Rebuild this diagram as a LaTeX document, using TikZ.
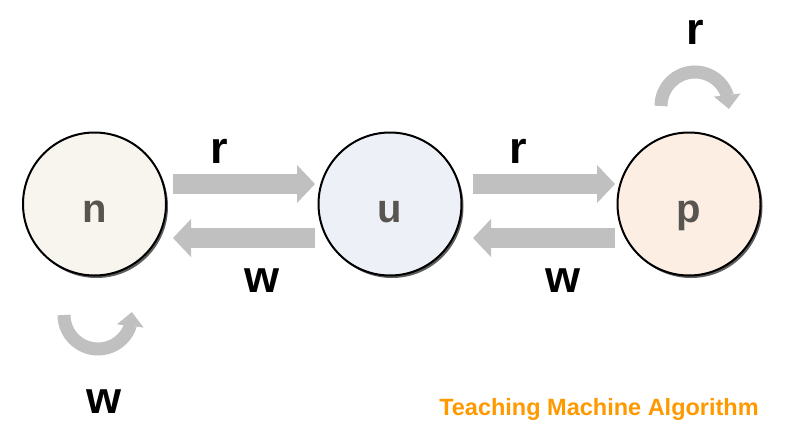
\documentclass[tikz,border=0pt]{standalone}
\usepackage{fontspec}
\setmainfont{Liberation Sans}
\usetikzlibrary{arrows.meta,bending,shadows}
\definecolor{nfill}{RGB}{248,244,238}
\definecolor{ufill}{RGB}{238,240,248}
\definecolor{pfill}{RGB}{253,238,228}
\definecolor{arrgray}{RGB}{192,192,192}
\definecolor{lettergray}{RGB}{88,84,80}
\definecolor{titleorange}{RGB}{255,153,0}
\tikzset{
  statenode/.style={circle, draw=black, line width=2pt, minimum size=143pt, inner sep=0pt,
    text height=40pt, text depth=4pt, text=lettergray,
    font=\fontsize{40}{40}\selectfont\bfseries,
    drop shadow={shadow xshift=2pt, shadow yshift=-2.5pt, fill=black!70, opacity=0.9}},
  bigarr/.style={draw=arrgray, line width=20pt, -{Triangle[width=37pt,length=18pt]}},
  looparr/.style={draw=arrgray, line width=13pt, -{Triangle[width=26pt,length=14pt]}},
  edgelabel/.style={anchor=base, inner sep=0pt, font=\fontsize{45}{45}\selectfont\bfseries},
  titletext/.style={anchor=base, inner sep=0pt, text=titleorange, font=\fontsize{23.5}{24}\selectfont\bfseries}
}
\begin{document}
\begin{tikzpicture}[x=1pt,y=1pt]
\useasboundingbox[fill=white] (0,0) rectangle (790,-436);
% states
\node[statenode, fill=nfill] (n) at (94.5,-204) {n};
\node[statenode, fill=ufill] (u) at (390,-204) {u};
\node[statenode, fill=pfill] (p) at (689,-204) {p};
% n <-> u
\draw[bigarr] ([xshift=6pt,yshift=20pt]n.east) -- ([xshift=-2.5pt,yshift=20pt]u.west);
\draw[bigarr] ([xshift=-2.5pt,yshift=-34pt]u.west) -- ([xshift=6pt,yshift=-34pt]n.east);
% u <-> p
\draw[bigarr] ([xshift=10.5pt,yshift=20pt]u.east) -- ([xshift=-1.5pt,yshift=20pt]p.west);
\draw[bigarr] ([xshift=-1.5pt,yshift=-34pt]p.west) -- ([xshift=10.5pt,yshift=-34pt]u.east);
% self loops
\coordinate (ploopc) at ([xshift=6pt,yshift=98pt]p.center);
\coordinate (nloopc) at ([xshift=3.5pt,yshift=-111pt]n.center);
\draw[looparr] ([xshift=-34pt]ploopc) arc[start angle=180, end angle=-5, radius=34pt];
\draw[looparr] ([xshift=-34pt]nloopc) arc[start angle=180, end angle=365, radius=34pt];
% labels
\node[edgelabel] (lr1) at (219,-163) {r};
\node[edgelabel] (lw1) at (262,-292) {w};
\node[edgelabel] (lr2) at (518,-163) {r};
\node[edgelabel] (lw2) at (563,-292) {w};
\node[edgelabel] (lr3) at (695,-45) {r};
\node[edgelabel] (lw3) at (104,-413) {w};
% title
\node[titletext] (title) at (599,-415) {Teaching Machine Algorithm};
\end{tikzpicture}
\end{document}
